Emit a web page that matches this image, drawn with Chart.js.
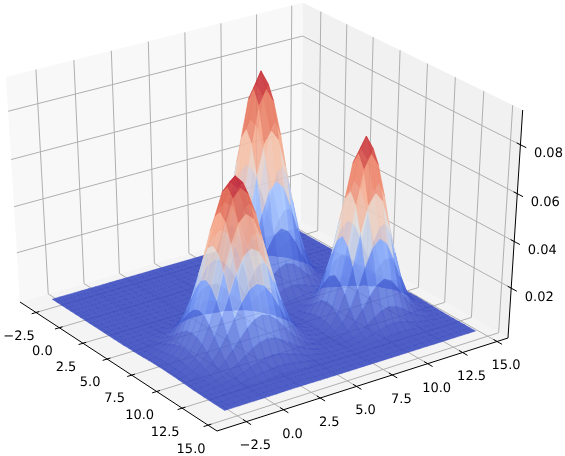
<!DOCTYPE html>
<html>
<head>
<meta charset="utf-8">
<style>html,body{margin:0;padding:0;background:#fff}canvas{display:block}</style>
<script src="https://cdn.jsdelivr.net/npm/chart.js@4/dist/chart.umd.js"></script>
</head>
<body>
<canvas id="c" width="565" height="456"></canvas>
<script>
// Surface sample positions
const gridX = [-3,-2.5,-2,-1.5,-1,-0.5,0,0.5,1,1.5,2,2.5,3,3.5,4,4.5,5,5.5,6,6.5,7,7.5,8,8.5,9,9.5,10,10.5,11,11.5,12,12.5,13,13.5,14,14.5];
const gridY = [-3,-2.5,-2,-1.5,-1,-0.5,0,0.5,1,1.5,2,2.5,3,3.5,4,4.5,5,5.5,6,6.5,7,7.5,8,8.5,9,9.5,10,10.5,11,11.5,12,12.5,13,13.5,14,14.5];
// Surface heights in units of 0.0001, one row per gridY entry
const zRows = [
[0,0,0,0,0,0,0,0,0,0,0,0,0,0,0,0,1,1,2,3,4,5,5,6,5,5,4,3,2,1,1,0,0,0,0,0],
[0,0,0,0,0,0,0,0,0,0,0,0,0,0,0,1,1,2,4,6,9,12,13,14,13,12,9,6,4,2,1,1,0,0,0,0],
[0,0,0,0,0,0,0,0,0,0,0,0,0,0,1,1,3,6,9,15,21,26,31,32,31,26,21,15,9,6,3,1,1,0,0,0],
[0,0,0,0,0,0,0,0,0,0,0,0,0,1,1,3,6,12,20,31,43,55,64,67,64,55,43,31,20,12,6,3,1,1,0,0],
[0,0,0,0,0,0,0,0,0,0,0,0,0,1,2,6,12,22,37,57,81,103,120,126,120,103,81,57,37,22,12,6,2,1,0,0],
[0,0,0,0,0,0,0,0,0,0,0,0,1,2,4,9,20,37,63,99,139,177,205,215,205,177,139,99,63,37,20,9,4,2,1,0],
[0,0,0,0,0,0,0,0,0,0,0,0,1,3,6,15,31,57,99,153,215,275,318,334,318,275,215,153,99,57,31,15,6,3,1,0],
[0,0,0,0,0,0,0,0,0,0,0,0,1,4,9,21,43,81,139,215,303,387,448,470,448,387,303,215,139,81,43,21,9,4,1,0],
[0,0,0,0,0,0,0,0,0,0,0,1,2,5,12,26,55,103,177,275,387,495,572,601,572,495,387,275,177,103,55,26,12,5,2,1],
[0,0,0,0,0,0,0,0,0,0,0,1,2,5,13,31,64,120,205,318,448,572,662,695,662,572,448,318,205,120,64,31,13,5,2,1],
[0,0,0,0,0,0,0,0,0,0,0,1,2,6,14,32,67,126,215,334,470,601,695,730,695,601,470,334,215,126,67,32,14,6,2,1],
[0,0,0,0,0,0,0,0,0,0,0,1,2,5,13,31,64,120,205,318,448,572,662,695,662,572,448,318,205,120,64,31,13,5,2,1],
[0,0,0,0,0,0,0,0,1,1,1,2,3,6,13,26,55,103,177,275,387,495,572,601,572,495,387,275,177,103,55,26,12,5,2,1],
[0,0,0,0,0,0,1,1,2,3,3,4,4,7,11,22,44,81,139,215,303,387,448,470,448,387,303,215,139,81,43,21,9,4,1,0],
[0,0,0,0,0,1,2,4,6,9,11,11,12,12,12,19,33,58,99,153,215,275,318,334,318,275,215,153,99,57,31,15,6,3,1,0],
[0,0,0,0,1,3,6,11,17,24,30,32,31,26,21,20,26,40,64,99,139,177,205,215,205,177,139,99,63,37,20,9,4,2,1,0],
[0,0,0,1,3,7,14,26,42,59,73,78,73,60,44,32,26,29,40,58,81,103,120,126,120,103,81,57,37,22,12,6,2,1,0,0],
[0,0,1,2,6,14,30,55,89,126,155,166,155,127,90,58,36,26,26,33,44,55,64,67,64,55,43,31,20,12,6,3,1,1,0,0],
[0,0,1,4,11,26,55,103,166,233,287,307,287,233,167,104,58,32,20,19,22,27,32,33,32,27,22,16,9,6,3,1,1,0,0,0],
[0,1,2,6,17,42,89,166,268,377,464,497,464,377,268,167,90,44,21,13,12,15,16,18,18,16,12,8,5,3,1,1,0,0,0,0],
[0,1,3,9,24,59,126,233,377,531,653,699,653,531,377,233,127,60,27,14,11,13,16,20,20,19,15,10,6,3,2,0,0,0,0,0],
[0,1,3,11,30,73,155,287,464,653,802,859,802,653,464,287,155,74,33,18,16,24,33,42,45,42,32,22,13,6,2,1,0,0,0,0],
[0,1,4,11,32,78,166,307,497,699,859,920,859,699,497,307,167,80,38,25,33,52,76,96,104,96,75,50,29,14,6,2,1,0,0,0],
[0,1,3,11,30,73,155,287,464,653,802,859,802,653,464,287,156,77,42,40,62,104,154,195,212,195,154,103,59,29,12,4,1,0,0,0],
[0,1,3,9,24,59,126,233,377,531,653,699,653,531,377,234,128,66,45,59,106,182,269,342,371,342,269,181,103,50,21,7,2,1,0,0],
[0,1,2,6,17,42,89,166,268,377,464,497,464,377,268,167,92,53,48,81,156,270,401,510,553,510,401,269,154,75,31,11,3,1,0,0],
[0,0,1,4,11,26,55,103,166,233,287,307,287,233,166,104,59,40,51,99,196,342,510,649,703,649,510,342,195,95,40,14,4,1,0,0],
[0,0,1,2,6,14,30,55,89,126,155,166,155,126,89,56,35,29,49,105,213,371,553,703,762,703,553,371,212,103,43,15,5,1,0,0],
[0,0,0,1,3,7,14,26,42,59,73,78,73,59,42,27,18,21,43,96,195,342,510,649,703,649,510,342,195,95,40,14,4,1,0,0],
[0,0,0,0,1,3,6,11,17,24,30,32,30,24,17,12,9,14,32,75,154,269,401,510,553,510,401,269,154,75,31,11,3,1,0,0],
[0,0,0,0,0,1,2,4,6,9,11,11,11,9,6,5,4,8,21,50,103,181,269,342,371,342,269,181,103,50,21,7,2,1,0,0],
[0,0,0,0,0,0,1,1,2,3,3,4,3,3,2,1,2,4,12,29,59,103,154,195,212,195,154,103,59,29,12,4,1,0,0,0],
[0,0,0,0,0,0,0,0,1,1,1,1,1,1,1,0,1,2,6,14,29,50,75,95,103,95,75,50,29,14,6,2,1,0,0,0],
[0,0,0,0,0,0,0,0,0,0,0,0,0,0,0,0,0,1,2,6,12,21,31,40,43,40,31,21,12,6,2,1,0,0,0,0],
[0,0,0,0,0,0,0,0,0,0,0,0,0,0,0,0,0,0,1,2,4,7,11,14,15,14,11,7,4,2,1,0,0,0,0,0],
[0,0,0,0,0,0,0,0,0,0,0,0,0,0,0,0,0,0,0,1,1,2,3,4,5,4,3,2,1,1,0,0,0,0,0,0]
];
// Hill summits: each hill's colour ramp runs from the floor up to its own summit
const hillX = [8.5, 2.5, 9];
const hillY = [2, 8, 10.5];
const hillTop = [0.073, 0.092, 0.0762];

// Axis ticks
const xTicks = [-2.5, 0, 2.5, 5, 7.5, 10, 12.5, 15];
const yTicks = [-2.5, 0, 2.5, 5, 7.5, 10, 12.5, 15];
const zTicks = [0.02, 0.04, 0.06, 0.08];
const xTickLabels = ['\u22122.5', '0.0', '2.5', '5.0', '7.5', '10.0', '12.5', '15.0'];
const yTickLabels = ['\u22122.5', '0.0', '2.5', '5.0', '7.5', '10.0', '12.5', '15.0'];
const zTickLabels = ['0.02', '0.04', '0.06', '0.08'];

// View box limits
const xLim = [-4.25, 15.85];
const yLim = [-4.45, 15.8];
const zLim = [-0.0019, 0.0939];

// Projective camera taking normalised box coordinates to the chart's pixel-valued scales
const camX = [181.79, 295.49, -14.33, 20];
const camY = [98.79, -69.92, -229.23, 302];
const camW = [-0.0701, 0.049, -0.0549, 1];
// Direction towards the viewer, used to paint far facets first
const viewDir = [0.7363 * 4, -0.5155 * 4, 0.4384 * 3];

// The flat floor is nearly opaque, the raised slopes let more of what is behind show through
const FLOOR_ALPHA = 0.89;
const SLOPE_ALPHA = 0.68;
const ALPHA_RAMP_END = 0.5;
// Keeps the foot of each hill close to the floor colour
const FOOT_GAMMA = 1.7;
const coolwarmStops = [
  [59, 76, 192], [88, 118, 224], [124, 159, 249], [170, 199, 253], [221, 221, 221],
  [245, 193, 168], [244, 152, 122], [222, 96, 77], [180, 4, 38]
];

function norm(x, y, z) {
  return [(x - xLim[0]) / (xLim[1] - xLim[0]), (y - yLim[0]) / (yLim[1] - yLim[0]), (z - zLim[0]) / (zLim[1] - zLim[0])];
}
function project(x, y, z) {
  const n = norm(x, y, z);
  const w = camW[0] * n[0] + camW[1] * n[1] + camW[2] * n[2] + camW[3];
  return {
    x: (camX[0] * n[0] + camX[1] * n[1] + camX[2] * n[2] + camX[3]) / w,
    y: (camY[0] * n[0] + camY[1] * n[1] + camY[2] * n[2] + camY[3]) / w
  };
}
function depth(x, y, z) {
  const n = norm(x, y, z);
  return viewDir[0] * n[0] + viewDir[1] * n[1] + viewDir[2] * n[2];
}
function coolwarm(t) {
  const clamped = Math.max(0, Math.min(1, t));
  const eased = clamped < 0.5 ? 0.5 * Math.pow(2 * clamped, FOOT_GAMMA) : clamped;
  const p = eased * (coolwarmStops.length - 1);
  const k = Math.min(coolwarmStops.length - 2, Math.floor(p));
  const f = p - k;
  const c = coolwarmStops[k].map((v, m) => Math.round(v + (coolwarmStops[k + 1][m] - v) * f));
  const alpha = SLOPE_ALPHA + (FLOOR_ALPHA - SLOPE_ALPHA) * Math.max(0, 1 - clamped / ALPHA_RAMP_END);
  return `rgba(${c[0]},${c[1]},${c[2]},${alpha.toFixed(3)})`;
}
function polyline(points, color, width) {
  return { data: points, showLine: true, borderColor: color, borderWidth: width, pointRadius: 0, fill: false, tension: 0, clip: false };
}
function polygon(points, color, edge) {
  return { data: points.concat([points[0]]), showLine: true, borderWidth: edge || 0, borderColor: color, backgroundColor: color, pointRadius: 0, fill: 'shape', tension: 0, clip: false };
}

// Surface facets, nearest first because the first dataset is painted last
const facets = [];
for (let j = 0; j < gridY.length - 1; j++) {
  for (let i = 0; i < gridX.length - 1; i++) {
    const corners = [[i, j], [i + 1, j], [i + 1, j + 1], [i, j + 1]].map(([a, b]) => [gridX[a], gridY[b], zRows[b][a] / 10000]);
    const mid = [0, 1, 2].map(m => corners.reduce((s, c) => s + c[m], 0) / 4);
    let hill = 0, best = Infinity;
    hillX.forEach((hx, h) => {
      const d = (hx - mid[0]) ** 2 + (hillY[h] - mid[1]) ** 2;
      if (d < best) { best = d; hill = h; }
    });
    facets.push({
      depth: depth(mid[0], mid[1], mid[2]),
      set: polygon(corners.map(c => project(c[0], c[1], c[2])), coolwarm(mid[2] / hillTop[hill]), 0.5)
    });
  }
}
facets.sort((a, b) => b.depth - a.depth);

// Panes and their grid lines
const [x0, x1] = xLim, [y0, y1] = yLim, [z0, z1] = zLim;
const panes = [
  polygon([project(x0, y0, z0), project(x1, y0, z0), project(x1, y1, z0), project(x0, y1, z0)], 'rgb(244,244,244)'),
  polygon([project(x0, y0, z0), project(x0, y1, z0), project(x0, y1, z1), project(x0, y0, z1)], 'rgb(248,248,248)'),
  polygon([project(x0, y1, z0), project(x1, y1, z0), project(x1, y1, z1), project(x0, y1, z1)], 'rgb(241,241,241)')
];
const GRID = '#b0b0b0';
const gridLines = [
  ...xTicks.map(t => polyline([project(t, y0, z0), project(t, y1, z0), project(t, y1, z1)], GRID, 1)),
  ...yTicks.map(t => polyline([project(x1, t, z0), project(x0, t, z0), project(x0, t, z1)], GRID, 1)),
  ...zTicks.map(t => polyline([project(x0, y0, t), project(x0, y1, t), project(x1, y1, t)], GRID, 1))
];
// Axis spines and tick marks
const axisLines = [
  polyline([project(x0, y0, z0), project(x1, y0, z0)], '#000', 1),
  polyline([project(x1, y0, z0), project(x1, y1, z0)], '#000', 1),
  polyline([project(x1, y1, z0), project(x1, y1, z1)], '#000', 1),
  ...xTicks.map(t => polyline([project(t, y0 - 0.3, z0), project(t, y0 + 0.22, z0)], '#000', 1)),
  ...yTicks.map(t => polyline([project(x1 + 0.45, t, z0), project(x1 - 0.32, t, z0)], '#000', 1)),
  ...zTicks.map(t => polyline([project(x1 + 0.5, y1, t), project(x1 - 0.32, y1, t)], '#000', 1))
];

// Tick labels drawn as text through the same scales
const tickText = {
  id: 'tickText',
  afterDraw(chart) {
    const { ctx, scales } = chart;
    ctx.save();
    ctx.font = '13px "DejaVu Sans"';
    ctx.textRendering = 'geometricPrecision';
    ctx.fillStyle = '#000';
    ctx.textAlign = 'center';
    ctx.textBaseline = 'middle';
    const put = (label, p, dx, dy) => ctx.fillText(label, scales.x.getPixelForValue(p.x) + dx, scales.y.getPixelForValue(p.y) + dy);
    xTicks.forEach((t, i) => put(xTickLabels[i], project(t, y0, z0), -17, 24));
    yTicks.forEach((t, i) => put(yTickLabels[i], project(x1, t, z0), 9, 24.5));
    zTicks.forEach((t, i) => put(zTickLabels[i], project(x1, y1, t), 28, 9));
    ctx.restore();
  }
};

new Chart(document.getElementById('c'), {
  type: 'scatter',
  data: { datasets: [...axisLines, ...facets.map(f => f.set), ...gridLines, ...panes] },
  options: {
    responsive: false,
    animation: false,
    events: [],
    layout: { padding: 0 },
    plugins: { legend: { display: false }, tooltip: { enabled: false } },
    scales: {
      x: { type: 'linear', min: 0, max: 565, display: false },
      y: { type: 'linear', min: 0, max: 456, reverse: true, display: false }
    }
  },
  plugins: [tickText]
});
</script>
</body>
</html>
